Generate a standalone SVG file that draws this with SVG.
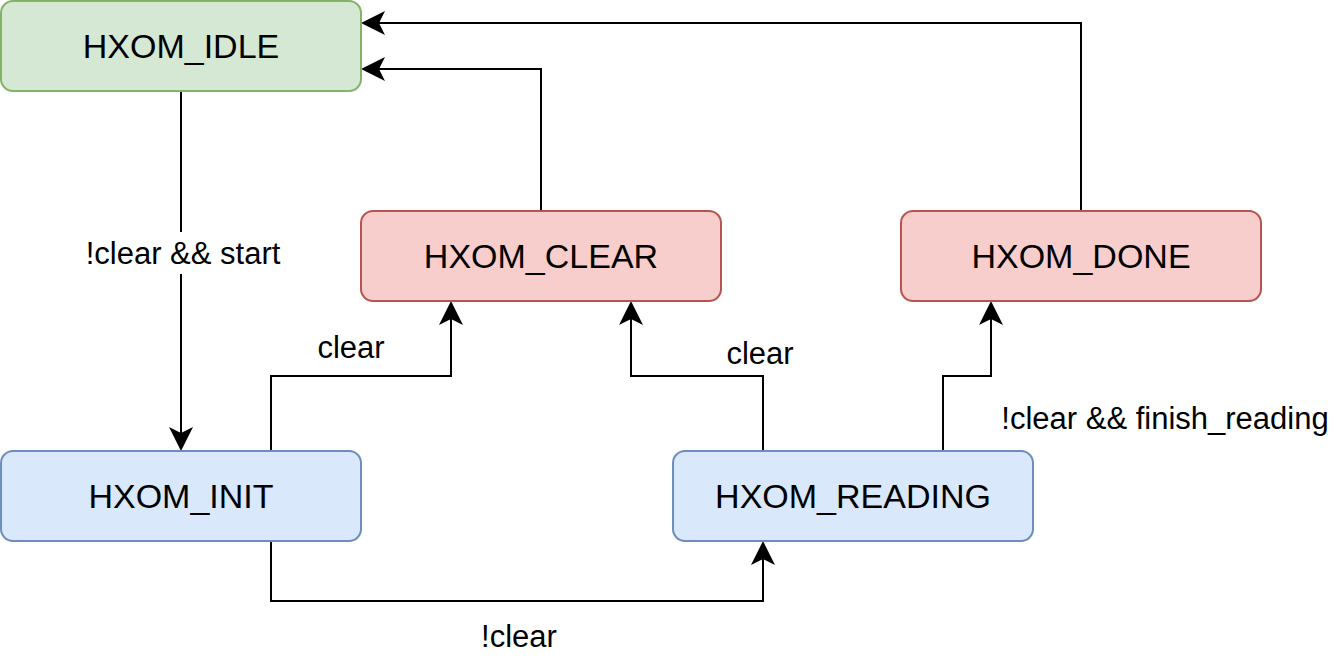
<svg xmlns="http://www.w3.org/2000/svg" width="1341" height="660" viewBox="0 0 1341 660">
<style>
.n{stroke-width:2}
.g{fill:#d5e8d4;stroke:#82b366}
.r{fill:#f8cecc;stroke:#b85450}
.b{fill:#dae8fc;stroke:#6c8ebf}
text{font-family:"Liberation Sans",Arial,sans-serif;text-anchor:middle;dominant-baseline:central;fill:#000}
.t{font-size:34px}
.l{font-size:31px}
.c{fill:none;stroke:#000;stroke-width:2;marker-end:url(#a)}
</style>
<defs><marker id="a" markerWidth="12" markerHeight="12" refX="10" refY="6" orient="auto" markerUnits="userSpaceOnUse"><path d="M0,0 L12,6 L0,12 L3,6 Z" fill="#000" transform="translate(-2,0)"/></marker>
<marker id="m" viewBox="0 0 24 24" markerWidth="24" markerHeight="24" refX="22" refY="12" orient="auto" markerUnits="userSpaceOnUse"><path d="M0,0 L24,12 L0,24 L6,12 Z" fill="#000"/></marker></defs>
<g id="connectors" style="--x:0">
<path class="c" style="marker-end:url(#m)" d="M181,91 V449"/>
<path class="c" style="marker-end:url(#m)" d="M271,451 V376 H451 V303"/>
<path class="c" style="marker-end:url(#m)" d="M763,451 V376 H631 V303"/>
<path class="c" style="marker-end:url(#m)" d="M943,451 V376 H991 V303"/>
<path class="c" style="marker-end:url(#m)" d="M271,541 V601 H763 V543"/>
<path class="c" style="marker-end:url(#m)" d="M541,211 V69 H363"/>
<path class="c" style="marker-end:url(#m)" d="M1081,211 V23 H363"/>
<rect x="78" y="232" width="212" height="42" fill="#fff"/>
<text class="l" x="183" y="253">!clear &amp;&amp; start</text>
<text class="l" x="351" y="347">clear</text>
<text class="l" x="760" y="353">clear</text>
<text class="l" x="1165" y="418">!clear &amp;&amp; finish_reading</text>
<text class="l" x="519" y="636">!clear</text>
</g>
<g id="idle"><rect class="n g" x="1" y="1" width="360" height="90" rx="12"/><text class="t" x="181" y="46">HXOM_IDLE</text></g>
<g id="clear"><rect class="n r" x="361" y="211" width="360" height="90" rx="12"/><text class="t" x="541" y="256">HXOM_CLEAR</text></g>
<g id="done"><rect class="n r" x="901" y="211" width="360" height="90" rx="12"/><text class="t" x="1081" y="256">HXOM_DONE</text></g>
<g id="init"><rect class="n b" x="1" y="451" width="360" height="90" rx="12"/><text class="t" x="181" y="496">HXOM_INIT</text></g>
<g id="reading"><rect class="n b" x="673" y="451" width="360" height="90" rx="12"/><text class="t" x="853" y="496">HXOM_READING</text></g>
</svg>
